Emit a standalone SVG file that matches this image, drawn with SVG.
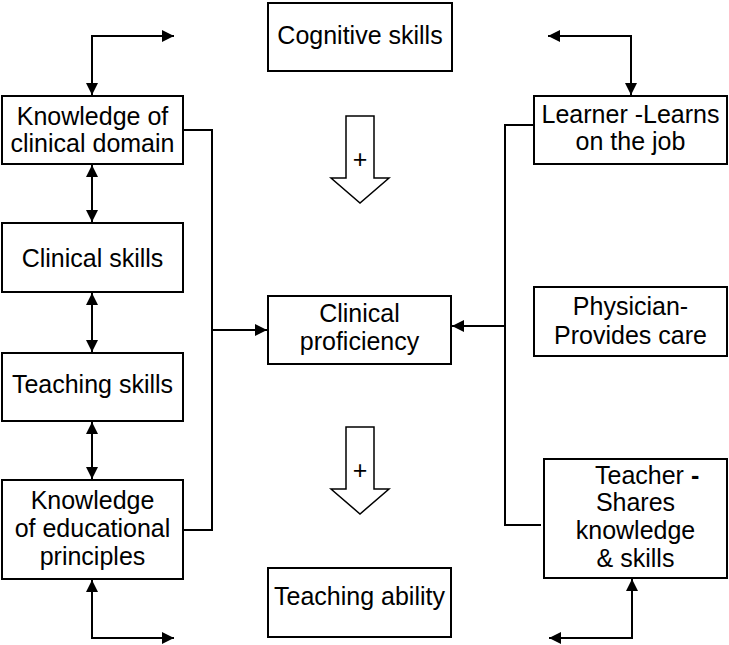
<svg xmlns="http://www.w3.org/2000/svg" width="729" height="645" viewBox="0 0 729 645">
<style>
.box{fill:#fff;stroke:#000;stroke-width:2}
.t{font-family:"Liberation Sans",Arial,sans-serif;font-size:25px;fill:#000;text-anchor:middle}
.c{fill:none;stroke:#000;stroke-width:2}
.blk{fill:#fff;stroke:#000;stroke-width:1.5;stroke-linejoin:miter}
</style>
<defs>
<marker id="ah" markerUnits="userSpaceOnUse" markerWidth="12" markerHeight="12" refX="12" refY="6" orient="auto-start-reverse" viewBox="0 0 12 12">
<path d="M0,0 L12,6 L0,12 z" fill="#000"/>
</marker>
</defs>
<rect width="729" height="645" fill="#fff"/>
<g id="connectors">
<path class="c" d="M92,95 V36 H174" marker-start="url(#ah)" marker-end="url(#ah)"/>
<path class="c" d="M92,165 V222" marker-start="url(#ah)" marker-end="url(#ah)"/>
<path class="c" d="M92,293 V352" marker-start="url(#ah)" marker-end="url(#ah)"/>
<path class="c" d="M92,422 V479" marker-start="url(#ah)" marker-end="url(#ah)"/>
<path class="c" d="M92,580 V638 H174" marker-start="url(#ah)" marker-end="url(#ah)"/>
<path class="c" d="M183,130 H212 V530 H183"/>
<path class="c" d="M212,330 H267" marker-end="url(#ah)"/>
<path class="c" d="M534,125 H505 V525 H541"/>
<path class="c" d="M505,326 H452" marker-end="url(#ah)"/>
<path class="c" d="M631,95 V36 H548" marker-start="url(#ah)" marker-end="url(#ah)"/>
<path class="c" d="M632,579 V638 H549" marker-start="url(#ah)" marker-end="url(#ah)"/>
</g>
<g id="plus1">
<polygon class="blk" points="346,116 374,116 374,178 389,178 360,203 331,178 346,178"/>
<text class="t" x="360" y="168">+</text>
</g>
<g id="plus2">
<polygon class="blk" points="346,427 374,427 374,489 389,489 360,514 331,489 346,489"/>
<text class="t" x="360" y="479">+</text>
</g>
<g id="cognitive">
<rect class="box" x="268" y="3" width="184" height="68"/>
<text class="t" x="360" y="44">Cognitive skills</text>
</g>
<g id="knowledge-clinical">
<rect class="box" x="2" y="96" width="181" height="68"/>
<text class="t" x="92.5" y="124.5">Knowledge of</text>
<text class="t" x="92.5" y="152">clinical domain</text>
</g>
<g id="clinical-skills">
<rect class="box" x="2" y="223" width="181" height="69"/>
<text class="t" x="92.5" y="266.5">Clinical skills</text>
</g>
<g id="teaching-skills">
<rect class="box" x="2" y="353" width="181" height="68"/>
<text class="t" x="92.5" y="393">Teaching skills</text>
</g>
<g id="knowledge-educational">
<rect class="box" x="2" y="480" width="181" height="99"/>
<text class="t" x="92.5" y="508.5">Knowledge</text>
<text class="t" x="92.5" y="536.5">of educational</text>
<text class="t" x="92.5" y="564.5">principles</text>
</g>
<g id="clinical-proficiency">
<rect class="box" x="268" y="296" width="183" height="68"/>
<text class="t" x="359.5" y="322">Clinical</text>
<text class="t" x="359.5" y="349.5">proficiency</text>
</g>
<g id="teaching-ability">
<rect class="box" x="268" y="568" width="183" height="69"/>
<text class="t" x="359.5" y="605">Teaching ability</text>
</g>
<g id="learner">
<rect class="box" x="534" y="96" width="193" height="68"/>
<text class="t" x="630.5" y="122.5">Learner -Learns</text>
<text class="t" x="630.5" y="150">on the job</text>
</g>
<g id="physician">
<rect class="box" x="534" y="287" width="193" height="69"/>
<text class="t" x="630.5" y="315">Physician-</text>
<text class="t" x="630.5" y="344">Provides care</text>
</g>
<g id="teacher">
<rect class="box" x="544" y="459" width="183" height="119"/>
<text class="t" x="595" y="483.5" style="text-anchor:start">Teacher <tspan font-weight="bold">-</tspan></text>
<text class="t" x="635.5" y="511">Shares</text>
<text class="t" x="635.5" y="538.5">knowledge</text>
<text class="t" x="635.5" y="566.5">&amp; skills</text>
</g>
</svg>
